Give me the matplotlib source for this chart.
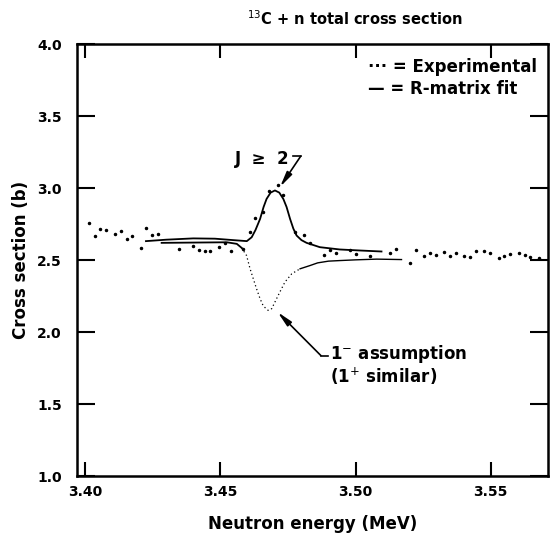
#!/usr/bin/env python3
# -*- coding: utf-8 -*-

import matplotlib
matplotlib.use('Agg')
import matplotlib.pyplot as plt


# measured points (MeV, barns)
exp_energy = [3.4015, 3.4036, 3.4055, 3.4078, 3.4110, 3.4132, 3.4155, 3.4174,
              3.4208, 3.4227, 3.4248, 3.4270, 3.4346, 3.4399, 3.4420, 3.4442,
              3.4462, 3.4495, 3.4517, 3.4538, 3.4585, 3.4610, 3.4630, 3.4659,
              3.4681, 3.4712, 3.4733, 3.4776, 3.4810, 3.4831, 3.4884, 3.4905,
              3.4928, 3.4979, 3.5001, 3.5053, 3.5127, 3.5148, 3.5201, 3.5223,
              3.5253, 3.5275, 3.5296, 3.5327, 3.5349, 3.5370, 3.5402, 3.5423,
              3.5445, 3.5476, 3.5497, 3.5530, 3.5550, 3.5573, 3.5604, 3.5626,
              3.5647, 3.5679]
exp_xs = [2.757, 2.669, 2.718, 2.711, 2.683, 2.704, 2.651, 2.672,
          2.586, 2.723, 2.676, 2.683, 2.577, 2.602, 2.568, 2.563,
          2.561, 2.595, 2.621, 2.563, 2.579, 2.695, 2.794, 2.834,
          2.979, 3.025, 2.956, 2.695, 2.676, 2.621, 2.540, 2.568,
          2.552, 2.568, 2.545, 2.529, 2.552, 2.575, 2.480, 2.568,
          2.533, 2.550, 2.540, 2.556, 2.529, 2.550, 2.529, 2.526,
          2.563, 2.561, 2.550, 2.515, 2.533, 2.545, 2.552, 2.538,
          2.522, 2.517]

# R-matrix fit, J >= 2
fit_j2_energy = [3.4225, 3.4300, 3.4400, 3.4480, 3.4548, 3.4598, 3.4616, 3.4630,
                 3.4647, 3.4660, 3.4671, 3.4686, 3.4702, 3.4718, 3.4733, 3.4745,
                 3.4758, 3.4770, 3.4782, 3.4800, 3.4819, 3.4868, 3.4942, 3.5016,
                 3.5096]
fit_j2_xs = [2.633, 2.643, 2.652, 2.650, 2.640, 2.633, 2.660, 2.710,
             2.787, 2.870, 2.926, 2.970, 2.985, 2.970, 2.926, 2.870,
             2.787, 2.720, 2.672, 2.640, 2.621, 2.591, 2.575, 2.568,
             2.561]

# R-matrix fit, 1- assumption (solid / dotted / solid pieces)
fit_1m_left_energy = [3.4283, 3.4400, 3.4524, 3.4561, 3.4579]
fit_1m_left_xs = [2.621, 2.623, 2.625, 2.614, 2.586]
fit_1m_dip_energy = [3.4579, 3.4597, 3.4610, 3.4622, 3.4634, 3.4647, 3.4659,
                     3.4677, 3.4690, 3.4702, 3.4720, 3.4739, 3.4764, 3.4795]
fit_1m_dip_xs = [2.586, 2.533, 2.441, 2.371, 2.302, 2.233, 2.182,
                 2.152, 2.164, 2.210, 2.279, 2.349, 2.406, 2.441]
fit_1m_right_energy = [3.4795, 3.4831, 3.4860, 3.4900, 3.4942, 3.5000, 3.5078, 3.5170]
fit_1m_right_xs = [2.441, 2.463, 2.482, 2.494, 2.498, 2.503, 2.508, 2.505]

x_ticks = [3.40, 3.45, 3.50, 3.55]
y_ticks = [1.0, 1.5, 2.0, 2.5, 3.0, 3.5, 4.0]


def main():
    plt.rcParams['font.family'] = ['DejaVu Sans']
    fig = plt.figure(figsize=(5.5, 5.4), dpi=100)
    ax = fig.add_axes([0.14, 0.118, 0.856, 0.8])

    ax.plot(exp_energy, exp_xs, linestyle='none', marker='o',
            markersize=1.5, color='black')
    ax.plot(fit_j2_energy, fit_j2_xs, color='black', lw=1.3)
    ax.plot(fit_1m_left_energy, fit_1m_left_xs, color='black', lw=1.3)
    ax.plot(fit_1m_dip_energy, fit_1m_dip_xs, color='black', lw=0.9,
            linestyle=(0, (1, 2.2)))
    ax.plot(fit_1m_right_energy, fit_1m_right_xs, color='black', lw=1.0)

    ax.set_xlim(3.3970, 3.5711)
    ax.set_ylim(1.0, 4.0)
    ax.set_xticks(x_ticks)
    ax.set_xticklabels([f'{v:.2f}' for v in x_ticks])
    ax.set_yticks(y_ticks)
    ax.set_yticklabels([f'{v:.1f}' for v in y_ticks])
    ax.tick_params(direction='in', width=1.5, top=True, right=True,
                   labelsize=10)
    ax.tick_params(axis='x', length=10, pad=6)
    ax.tick_params(axis='y', length=13, pad=11)
    for lab in ax.get_xticklabels() + ax.get_yticklabels():
        lab.set_fontweight('bold')
    for s in ax.spines.values():
        s.set_linewidth(1.8)

    ax.set_xlabel('Neutron energy (MeV)', fontsize=12, fontweight='bold',
                  labelpad=12)
    ax.set_ylabel('Cross section (b)', fontsize=12, fontweight='bold',
                  labelpad=5)
    fig.text(0.645, 0.965, r'$^{13}$C + n total cross section', ha='center',
             va='center', fontsize=10.5, fontweight='bold')

    # legend drawn as text like the original
    ax.text(3.5046, 3.841, '··· = Experimental', fontsize=12, fontweight='bold',
            va='center', ha='left')
    ax.text(3.5046, 3.688, '— = R-matrix fit', fontsize=12, fontweight='bold',
            va='center', ha='left')

    # J >= 2 label and arrow
    ax.text(3.4654, 3.203, 'J  ≥  2', fontsize=12, fontweight='bold',
            ha='center', va='center')
    ax.plot([3.4768, 3.4797], [3.222, 3.222], color='black', lw=1.2)
    ax.annotate('', xy=(3.4721, 3.010), xytext=(3.4797, 3.222),
                arrowprops=dict(arrowstyle='-|>,head_length=0.9,head_width=0.18',
                                color='black', lw=1.2, shrinkA=0, shrinkB=0))

    # 1- assumption label and arrow
    ax.text(3.4905, 1.852, r'1$^{-}$ assumption', fontsize=12,
            fontweight='bold', ha='left', va='center')
    ax.text(3.4905, 1.692, r'(1$^{+}$ similar)', fontsize=12,
            fontweight='bold', ha='left', va='center')
    ax.plot([3.4872, 3.4898], [1.838, 1.838], color='black', lw=1.2)
    ax.annotate('', xy=(3.4712, 2.140), xytext=(3.4872, 1.838),
                arrowprops=dict(arrowstyle='-|>,head_length=0.9,head_width=0.18',
                                color='black', lw=1.2, shrinkA=0, shrinkB=0))

    fig.savefig('out.png', dpi=100)


if __name__ == '__main__':
    main()
